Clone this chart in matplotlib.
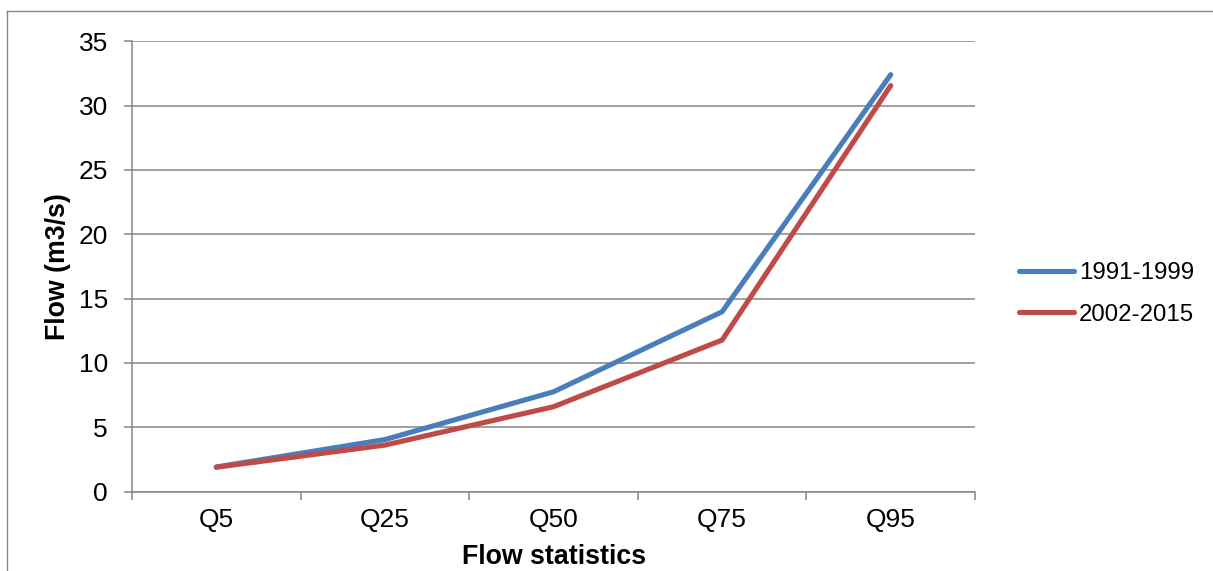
import matplotlib
matplotlib.use("Agg")
import matplotlib.pyplot as plt
from matplotlib.lines import Line2D
import numpy as np

plt.rcParams['font.family'] = ['Liberation Sans', 'DejaVu Sans']

# Flow duration statistics per period
categories = ["Q5", "Q25", "Q50", "Q75", "Q95"]
flow_1991_1999 = [1.92, 4.05, 7.76, 13.98, 32.4]
flow_2002_2015 = [1.90, 3.62, 6.60, 11.78, 31.55]
series_labels = ["1991-1999", "2002-2015"]
y_ticks = [0, 5, 10, 15, 20, 25, 30, 35]

BLUE = "#4A7EBB"
RED = "#BE4B48"
GRID = "#868686"

W, H = 1213, 571
fig = plt.figure(figsize=(W / 100, H / 100), dpi=100)
fig.patch.set_facecolor("white")

# axes box in pixel coordinates
left, right, top, bottom = 132, 975, 41.2, 491.7
ax = fig.add_axes([left / W, 1 - bottom / H, (right - left) / W, (bottom - top) / H])

x = np.arange(len(categories))
ax.plot(x, flow_1991_1999, color=BLUE, lw=3.7, solid_capstyle="round",
        solid_joinstyle="miter", label=series_labels[0], zorder=3)
ax.plot(x, flow_2002_2015, color=RED, lw=3.7, solid_capstyle="round",
        solid_joinstyle="miter", label=series_labels[1], zorder=4)

ax.set_xlim(-0.5, len(categories) - 0.5)
ax.set_ylim(0, 35)

# y axis
ax.set_yticks(y_ticks)
ax.set_yticklabels([str(v) for v in y_ticks])
ax.yaxis.grid(True, color=GRID, lw=1.1)
ax.tick_params(axis="y", direction="out", length=5.8, width=1.1, color=GRID,
               pad=11.5, labelsize=19, labelcolor="black")

# x axis: tick marks between categories, labels centred on categories
ax.set_xticks(np.arange(-0.5, len(categories), 1.0))
ax.set_xticklabels([])
ax.set_xticks(x, minor=True)
ax.set_xticklabels(categories, minor=True)
ax.tick_params(axis="x", which="major", direction="out", length=5.8, width=1.1, color=GRID)
ax.tick_params(axis="x", which="minor", length=0, pad=11.5, labelsize=19, labelcolor="black")

for side in ("top", "right"):
    ax.spines[side].set_visible(False)
for side in ("left", "bottom"):
    ax.spines[side].set_color(GRID)
    ax.spines[side].set_linewidth(1.1)
ax.set_axisbelow(True)

ax.set_xlabel("Flow statistics", fontsize=19.3, fontweight="bold", va="center")
ax.xaxis.set_label_coords((553.7 - left) / (right - left), (bottom - 557) / (bottom - top))
ax.set_ylabel("Flow (m3/s)", fontsize=19.3, fontweight="bold", va="center")
ax.yaxis.set_label_coords((58 - left) / (right - left), 0.5)

leg = fig.legend(loc="center left", bbox_to_anchor=(1002 / W, 1 - 294 / H),
                 frameon=False, fontsize=17.3, handlelength=2.3, handletextpad=0.2,
                 labelspacing=0.8, borderpad=0.2)
for h in leg.get_lines():
    h.set_linewidth(3.7)
    h.set_solid_capstyle("round")

# outer chart frame (top and left edges visible)
x0, y0 = 7.3 / W, 1 - 10.7 / H
fig.add_artist(Line2D([x0, 1.0], [y0, y0], transform=fig.transFigure, color=GRID, lw=1.0))
fig.add_artist(Line2D([x0, x0], [0.0, y0], transform=fig.transFigure, color=GRID, lw=1.0))

fig.savefig("out.png", dpi=100, facecolor="white")
